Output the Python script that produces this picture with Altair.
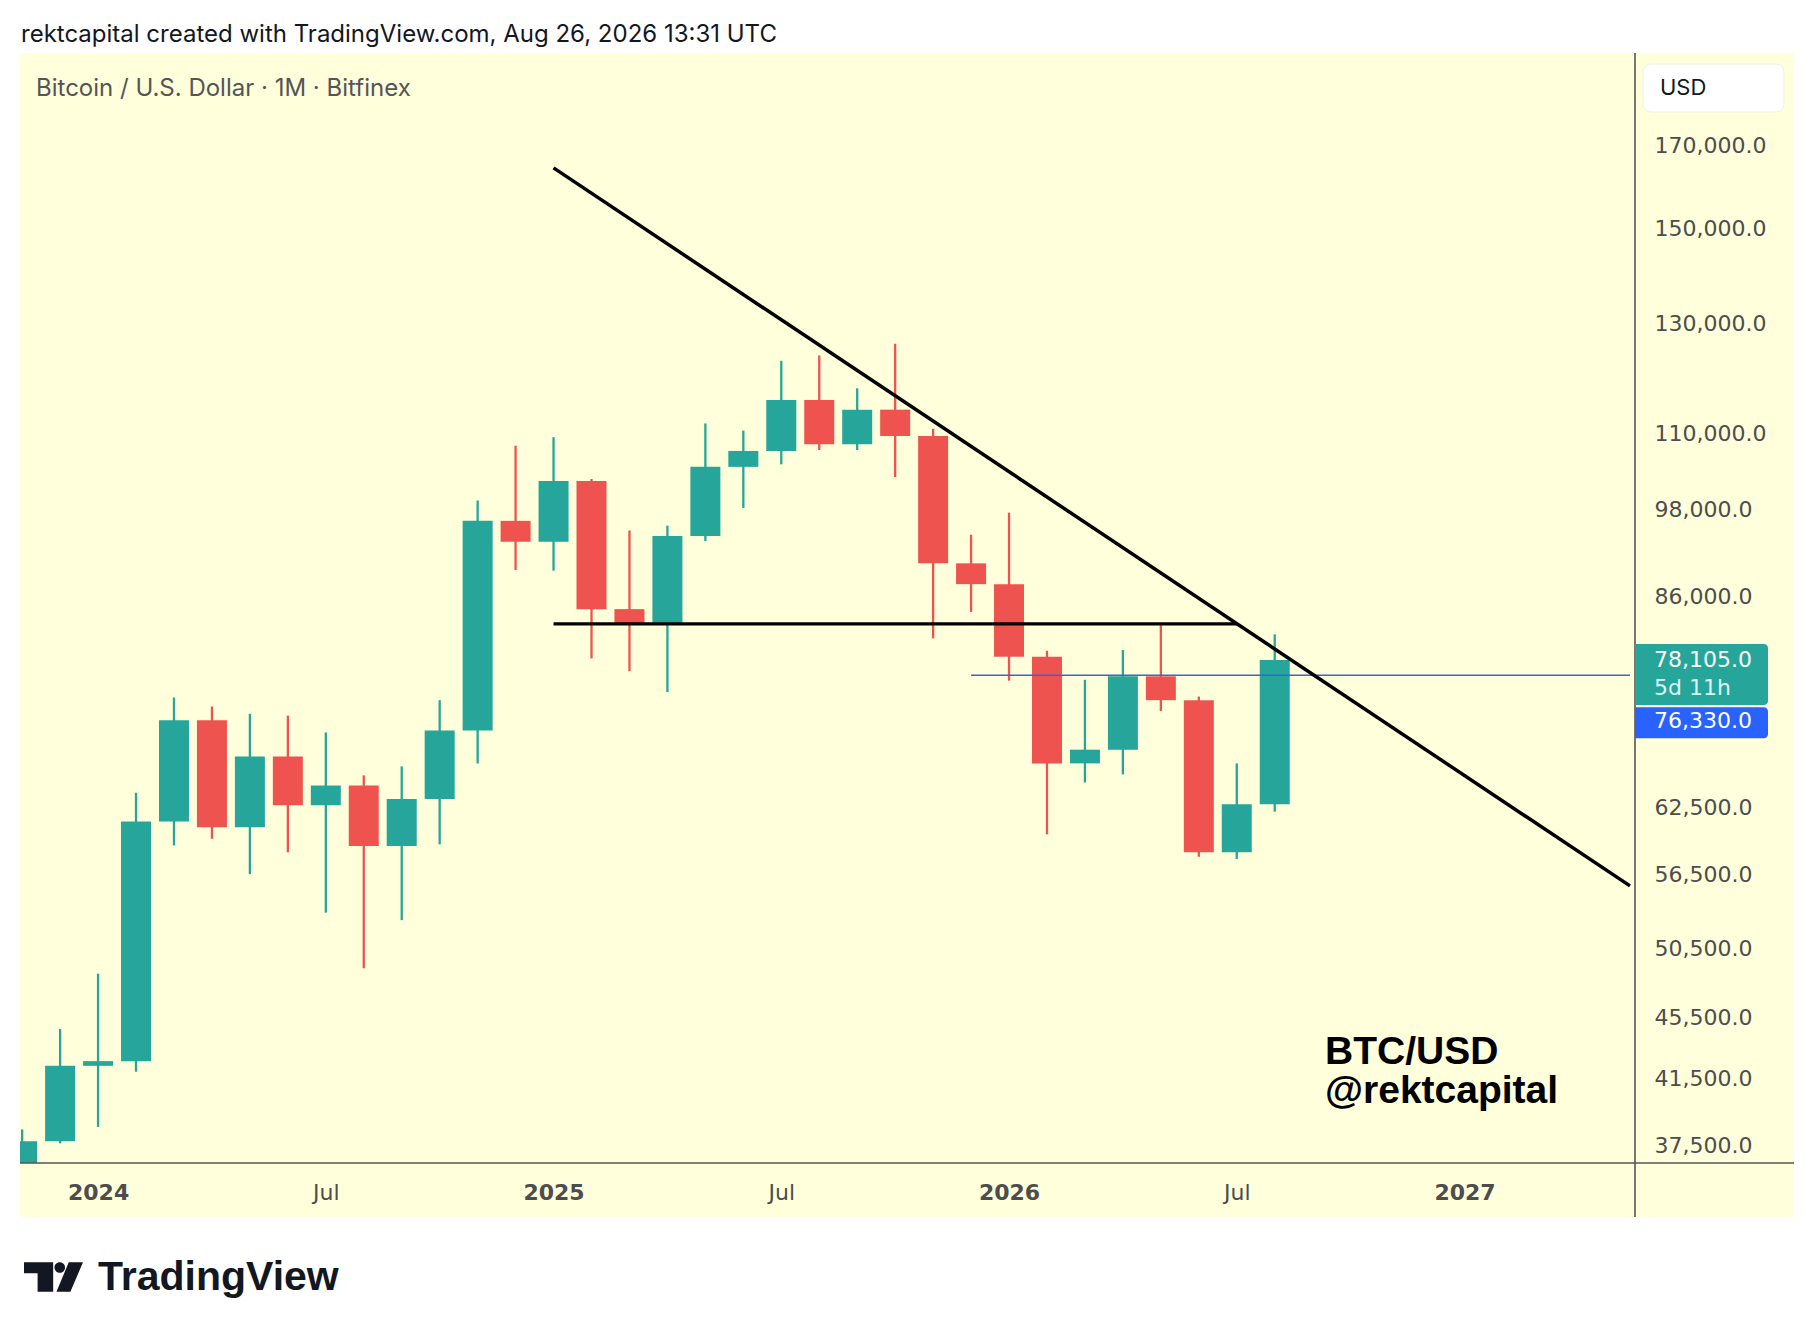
import altair as alt
import pandas as pd

# ---------------- data ----------------
months = ["2023-11", "2023-12", "2024-01", "2024-02", "2024-03", "2024-04", "2024-05", "2024-06",
          "2024-07", "2024-08", "2024-09", "2024-10", "2024-11", "2024-12", "2025-01", "2025-02",
          "2025-03", "2025-04", "2025-05", "2025-06", "2025-07", "2025-08", "2025-09", "2025-10",
          "2025-11", "2025-12", "2026-01", "2026-02", "2026-03", "2026-04", "2026-05", "2026-06",
          "2026-07", "2026-08"]
opens = [34650, 37720, 42280, 42580, 61180, 71300, 60650, 67500,
         62700, 64600, 58950, 63300, 70200, 96400, 93400, 102400,
         84350, 82550, 94200, 104600, 107150, 115750, 108250, 114050,
         109600, 90400, 87600, 78500, 66800, 68200, 76200, 73500,
         58400, 62800]
highs = [38400, 44700, 48600, 63900, 73800, 72800, 72000, 71800,
         70000, 65600, 66500, 73500, 99400, 108000, 109400, 102700,
         95000, 95700, 111700, 110500, 122800, 123800, 117800, 126000,
         110800, 94400, 97600, 79200, 75800, 79300, 82600, 73900,
         66800, 81200]
lows = [34600, 37600, 38550, 41900, 59000, 59600, 56500, 58400,
        53300, 49000, 52700, 59100, 66800, 89500, 89400, 78300,
        76800, 74400, 93500, 98300, 105000, 107300, 107300, 103000,
        80700, 84000, 75700, 60000, 64900, 65700, 72300, 58000,
        57800, 62100]
closes = [37720, 42280, 42580, 61180, 71300, 60650, 67500, 62700,
          64600, 58950, 63300, 70200, 96400, 93400, 102400, 84350,
          82550, 94200, 104600, 107150, 115750, 108250, 114050, 109600,
          90400, 87600, 78500, 66800, 68200, 76200, 73500, 58400,
          62800, 78105]

trend_months = [12, 40.36]          # Jan 2025 -> right edge
trend_prices = [164400, 55500]
support_months = [12, 30]           # Jan 2025 -> Jul 2026
support_prices = [82500, 82500]
pline_months = [23, 40.36]
pline_prices = [76330, 76330]

price_ticks = [170000, 150000, 130000, 110000, 98000, 86000, 62500, 56500, 50500, 45500, 41500, 37500]
time_ticks = [0, 6, 12, 18, 24, 30, 36]

last_price = [78105]
last_text = ["78,105.0"]
countdown_text = ["5d 11h"]
line_price = [76330]
line_text = ["76,330.0"]

# ---------------- layout ----------------
W, H = 1615, 1110
PANEL_W, PANEL_H = 1774, 1164
GREEN, RED = "#26a69a", "#ef5350"
BG = "#FFFFDB"
AXIS_C = "#4d4d4d"

idx = [(int(m[:4]) - 2024) * 12 + int(m[5:]) - 1 for m in months]
df = pd.DataFrame(dict(i=idx, o=opens, h=highs, l=lows, c=closes))
df["dir"] = ["up" if c >= o else "down" for o, c in zip(opens, closes)]

xscale = alt.Scale(domain=[-1.925, 40.36], nice=False, zero=False)
yscale = alt.Scale(type="log", domain=[36500, 195600], nice=False)

xaxis = alt.Axis(
    title=None, values=time_ticks, grid=False, domain=False, ticks=False, tickSize=0, zindex=2,
    labelExpr="datum.value % 12 == 0 ? toString(2024 + datum.value / 12) : 'Jul'",
    labelFont="DejaVu Sans", labelFontSize=22, labelColor=AXIS_C,
    labelFontWeight={"condition": {"test": "datum.value % 12 == 0", "value": "bold"}, "value": "normal"},
    labelPadding=29, labelBaseline="middle", labelFlush=False, labelOverlap=False,
)
yaxis = alt.Axis(
    title=None, orient="right", values=price_ticks, grid=False, domain=False, ticks=False, tickSize=0,
    zindex=2, format=",.1f", labelFont="DejaVu Sans", labelFontSize=22, labelColor=AXIS_C,
    labelPadding=19, labelAlign="left", labelOverlap=False, labelFlush=False,
)


def X(field):
    return alt.X(field, scale=xscale, axis=xaxis)


def Y(field):
    return alt.Y(field, scale=yscale, axis=yaxis)


one = pd.DataFrame({"a": [0]})

panel = alt.Chart(one).mark_rect(color=BG).encode(
    x=alt.value(0), x2=alt.value(PANEL_W), y=alt.value(0), y2=alt.value(PANEL_H))

color = alt.Color("dir:N", scale=alt.Scale(domain=["up", "down"], range=[GREEN, RED]), legend=None)

wicks = alt.Chart(df).mark_rule(strokeWidth=2.3, clip=True).encode(
    x=X("i:Q"), y=Y("l:Q"), y2="h:Q", color=color)
bodies = alt.Chart(df).mark_bar(size=30, clip=True).encode(
    x=X("i:Q"), y=Y("o:Q"), y2="c:Q", color=color)

trend = alt.Chart(pd.DataFrame({"i": trend_months, "p": trend_prices})).mark_line(
    color="black", strokeWidth=3.5, clip=True).encode(x=X("i:Q"), y=Y("p:Q"))
support = alt.Chart(pd.DataFrame({"i": support_months, "p": support_prices})).mark_line(
    color="black", strokeWidth=3.2, clip=True).encode(x=X("i:Q"), y=Y("p:Q"))
pline = alt.Chart(pd.DataFrame({"i": pline_months, "p": pline_prices})).mark_line(
    color="#3d63d2", strokeWidth=1.4, clip=True).encode(x=X("i:Q"), y=Y("p:Q"))

hline = alt.Chart(one).mark_rule(color="#555555", strokeWidth=1.6).encode(
    x=alt.value(0), x2=alt.value(PANEL_W), y=alt.value(H))
vline = alt.Chart(one).mark_rule(color="#555555", strokeWidth=1.6).encode(
    x=alt.value(W), y=alt.value(0), y2=alt.value(PANEL_H))

# price labels on the axis
lp = pd.DataFrame({"p": last_price, "t1": last_text, "t2": countdown_text})
green_box = alt.Chart(lp).mark_rect(color=GREEN, yOffset=-16, y2Offset=45,
                                    cornerRadiusTopRight=4, cornerRadiusBottomRight=4).encode(
    x=alt.value(W), x2=alt.value(W + 133), y=Y("p:Q"), y2="p:Q")
green_t1 = alt.Chart(lp).mark_text(align="left", baseline="middle", font="DejaVu Sans",
                                   fontSize=22, color="white").encode(
    x=alt.value(W + 19), y=Y("p:Q"), text="t1:N")
green_t2 = alt.Chart(lp).mark_text(align="left", baseline="middle", font="DejaVu Sans",
                                   fontSize=22, color="#dff4f1", dy=28).encode(
    x=alt.value(W + 19), y=Y("p:Q"), text="t2:N")

bp = pd.DataFrame({"p": line_price, "t": line_text})
blue_box = alt.Chart(bp).mark_rect(color="#2962ff", yOffset=32, y2Offset=63,
                                   cornerRadiusTopRight=4, cornerRadiusBottomRight=4).encode(
    x=alt.value(W), x2=alt.value(W + 133), y=Y("p:Q"), y2="p:Q")
blue_t = alt.Chart(bp).mark_text(align="left", baseline="middle", font="DejaVu Sans",
                                 fontSize=22, color="white", dy=46).encode(
    x=alt.value(W + 19), y=Y("p:Q"), text="t:N")

usd_box = alt.Chart(one).mark_rect(color="white", cornerRadius=8, stroke="#f0f0e0", strokeWidth=1).encode(
    x=alt.value(W + 8), x2=alt.value(W + 149), y=alt.value(11), y2=alt.value(59))
usd_t = alt.Chart(one).mark_text(align="left", baseline="middle", font="Inter",
                                 fontSize=22, color="#131722", text="USD").encode(
    x=alt.value(W + 25), y=alt.value(35))

# texts
title = alt.Chart(one).mark_text(align="left", baseline="middle", font="Inter",
                                 fontSize=24, color="#131722",
                                 text="rektcapital created with TradingView.com, Aug 26, 2026 13:31 UTC").encode(
    x=alt.value(1), y=alt.value(-18))
legend_t = alt.Chart(one).mark_text(align="left", baseline="middle", font="Inter",
                                    fontSize=24, color="#555555",
                                    text="Bitcoin / U.S. Dollar · 1M · Bitfinex").encode(
    x=alt.value(16), y=alt.value(36))
wm1 = alt.Chart(one).mark_text(align="left", baseline="middle", font="Liberation Sans",
                               fontSize=39, fontWeight="bold", color="black", text="BTC/USD").encode(
    x=alt.value(1305), y=alt.value(999))
wm2 = alt.Chart(one).mark_text(align="left", baseline="middle", font="Liberation Sans",
                               fontSize=39, fontWeight="bold", color="black", text="@rektcapital").encode(
    x=alt.value(1305), y=alt.value(1038))

logo_path = ("M-1,-0.5 L-0.011,-0.5 L-0.011,0.5 L-0.539,0.5 L-0.539,-0.129 L-1,-0.129 Z "
             "M0.033,-0.32 A0.18,0.18 0 1,0 0.393,-0.32 A0.18,0.18 0 1,0 0.033,-0.32 Z "
             "M0.517,-0.5 L1,-0.5 L0.573,0.5 L0.101,0.5 Z")
logo = alt.Chart(one).mark_point(shape=logo_path, filled=True, size=3481, color="#131722",
                                 opacity=1, strokeWidth=0).encode(
    x=alt.value(33.5), y=alt.value(1224))
logo_t = alt.Chart(one).mark_text(align="left", baseline="middle", font="Liberation Sans",
                                  fontSize=41, fontWeight="bold", color="#131722", text="TradingView").encode(
    x=alt.value(78), y=alt.value(1225))

chart = alt.layer(
    panel, wicks, bodies, support, pline, trend, hline, vline,
    green_box, green_t1, green_t2, blue_box, blue_t, usd_box, usd_t,
    title, legend_t, wm1, wm2, logo, logo_t,
).properties(
    width=W, height=H,
    autosize=alt.AutoSizeParams(type="none"),
    padding={"left": 12, "top": 45, "right": 170, "bottom": 150},
    background="white",
).configure_view(stroke=None)

chart.save("out.html", embed_options={"renderer": "svg", "actions": False})
